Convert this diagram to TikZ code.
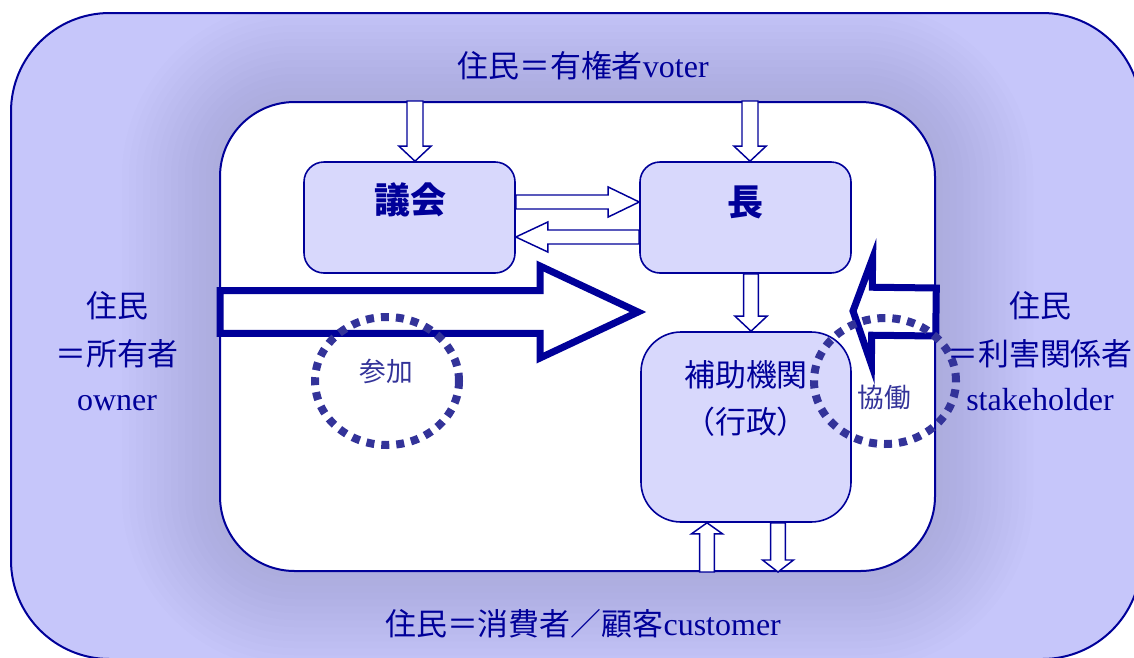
\documentclass[tikz,border=0pt]{standalone}
\usepackage{fontspec}
\setmainfont{Liberation Serif}
\newfontfamily\jp{Noto Sans CJK JP}
\usetikzlibrary{calc,shapes.geometric}
\definecolor{navy}{HTML}{000099}
\definecolor{outerfill}{HTML}{C6C6FA}
\definecolor{glowc}{RGB}{134,134,176}
\definecolor{boxfill}{HTML}{D8D8FC}
\definecolor{dotc}{HTML}{333399}
\newcommand\latn[1]{{\rmfamily\fontsize{24}{28}\selectfont #1}}
\newcommand\harrow[6][hollow]{%
  \path ($(#3)!#6!(#2)$) coordinate (hh);
  \draw[#1] ($(#2)!#4!90:(#3)$) -- ($(hh)!#4!90:(#3)$) -- ($(hh)!#5!90:(#3)$) -- (#3)
    -- ($(hh)!#5!-90:(#3)$) -- ($(hh)!#4!-90:(#3)$) -- ($(#2)!#4!-90:(#3)$) -- cycle;}
\tikzset{
  lbl/.style={text=navy, font=\jp\fontsize{23.2}{27}\selectfont, inner sep=0pt},
  boldlbl/.style={text=navy, font=\jp\bfseries\fontsize{27}{31}\selectfont, inner sep=0pt},
  ringlbl/.style={text=dotc, font=\jp\fontsize{20}{24}\selectfont, inner sep=0pt},
  box/.style={draw=navy, fill=boxfill, line width=1.2pt, rounded corners=15pt, inner sep=0pt,
    minimum width=158.25pt, minimum height=83.25pt},
  hollow/.style={draw=navy, fill=white, line width=1.1pt, line join=miter},
  bigarrow/.style={draw=navy, fill=white, line width=5.25pt, line join=miter, miter limit=25},
  dotring/.style={draw=dotc, line width=6pt, dash pattern=on 6pt off 5.25pt, ellipse, inner sep=0pt},
}
\begin{document}
\begin{tikzpicture}[x=0.75pt,y=-0.75pt]
\useasboundingbox (0,0) rectangle (1134,657);
\clip (0,0) rectangle (1134,657);
% outer area with glow
\fill[outerfill, rounded corners=74pt] (11,13) rectangle (1141,659);
\begin{scope}
  \clip[rounded corners=74pt] (11,13) rectangle (1141,659);
  \foreach \i in {1,...,14}{
    \pgfmathsetmacro\rr{0.75*(75+7*\i)}
    \fill[glowc, opacity=0.024, rounded corners=\rr pt] (220-7*\i,102-7*\i) rectangle (935+7*\i,571+7*\i);
  }
\end{scope}
\draw[navy, line width=1.5pt, rounded corners=74pt] (11,13) rectangle (1141,659);
% inner area
\node[draw=navy, fill=white, line width=1.5pt, rounded corners=56pt, inner sep=0pt,
  minimum width=536.25pt, minimum height=351.75pt] (inner) at (577.5,336.5) {};
% boxes
\node[box] (gikai) at (409.5,217.5) {};
\node[box] (chou) at (745.5,217.5) {};
\node[box, rounded corners=30pt, minimum width=157.5pt, minimum height=142.5pt] (hojo) at (746,427) {};
\node[boldlbl] (gikait) at (410,200) {議会};
\node[boldlbl] (chout) at (745,202) {長};
\node[lbl] (hojot1) at (746,375) {補助機関};
\node[lbl] (hojot2) at (746,422) {（行政）};
% hollow arrows
\path (gikai.north) ++(5.5,0) coordinate (gin) (gin |- inner.north) coordinate (gtop);
\harrow{gtop}{gin}{6pt}{12pt}{11.25pt}
\path (chou.north) ++(4.5,0) coordinate (cin) (cin |- inner.north) coordinate (ctop);
\harrow{ctop}{cin}{6pt}{12pt}{11.25pt}
\path (gikai.east) ++(0,-15.5) coordinate (ge1) (ge1 -| chou.west) coordinate (cw1);
\harrow{ge1}{cw1}{5.25pt}{11.25pt}{23.25pt}
\path (gikai.east) ++(0,19.5) coordinate (ge2) (ge2 -| chou.west) coordinate (cw2);
\harrow{cw2}{ge2}{5.25pt}{11.25pt}{24pt}
\path (chou.south) ++(5.5,0) coordinate (cs) (cs |- hojo.north) coordinate (hn);
\harrow{cs}{hn}{5.6pt}{12pt}{11.25pt}
\path (hojo.south) ++(-39,0) coordinate (hs1) (hs1 |- inner.south) coordinate (ib1);
\harrow{ib1}{hs1}{5.6pt}{11.6pt}{8.25pt}
\path (hojo.south) ++(32,0) coordinate (hs2) (hs2 |- inner.south) coordinate (ib2);
\harrow{hs2}{ib2}{5.6pt}{11.6pt}{9pt}
% big arrows
\path (inner.west) ++(1,-24.5) coordinate (sT);
\coordinate (sH) at (638,312);
\harrow[bigarrow]{sT}{sH}{16.1pt}{34.5pt}{73.5pt}
\path (inner.east) ++(0,-24.5) coordinate (kT);
\coordinate (kH) at (853,311);
\harrow[bigarrow]{kT}{kH}{18pt}{39.75pt}{14.25pt}
% dotted rings
\node[dotring, minimum width=108pt, minimum height=96pt] (sanka) at (387,381) {};
\node[dotring, minimum width=106.5pt, minimum height=94.5pt] (kyodo) at (885,381) {};
\node[ringlbl] (sankat) at (386,371) {参加};
\node[ringlbl] (kyodot) at (884,397) {協働};
% outer labels
\node[lbl, anchor=base] (topl) at (583,77) {住民＝有権者\latn{voter}};
\node[lbl, anchor=base] (botl) at (583,635) {住民＝消費者／顧客\latn{customer}};
\node[lbl] (l1) at (117,306) {住民};
\node[lbl] (l2) at (117,354) {＝所有者};
\node[lbl, anchor=base] (l3) at (117,410) {\latn{owner}};
\node[lbl] (r1) at (1040,306) {住民};
\node[lbl] (r2) at (1040,354) {＝利害関係者};
\node[lbl, anchor=base] (r3) at (1040,410) {\latn{stakeholder}};
\end{tikzpicture}
\end{document}
